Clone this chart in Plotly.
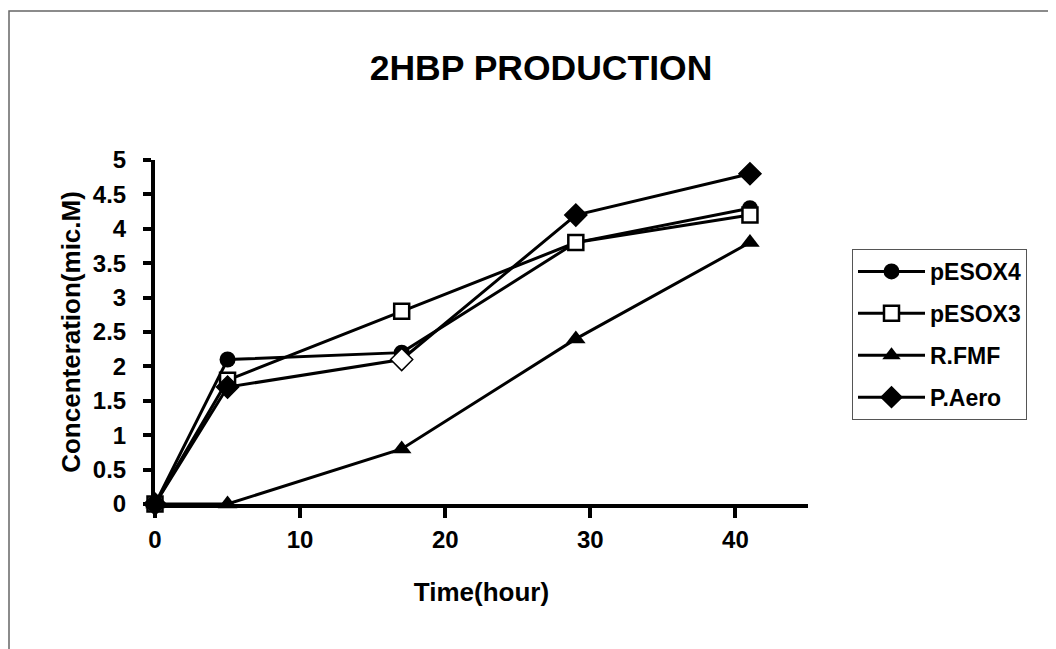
import plotly.graph_objects as go

time_h = [0, 5, 17, 29, 41]
pesox4 = [0, 2.1, 2.2, 3.8, 4.3]
pesox3 = [0, 1.8, 2.8, 3.8, 4.2]
rfmf = [0, 0, 0.8, 2.4, 3.8]
paero = [0, 1.7, 2.1, 4.2, 4.8]

x_ticks = [0, 10, 20, 30, 40]
y_ticks = [0, 0.5, 1, 1.5, 2, 2.5, 3, 3.5, 4, 4.5, 5]
y_ticklabels = ["0", "0.5", "1", "1.5", "2", "2.5", "3", "3.5", "4", "4.5", "5"]

FONT = "Arial, Liberation Sans, sans-serif"
W, H = 1056, 649
OFF = 8  # page body offset
# plot area in screen pixels
SL, SR, ST, SB = 155, 808, 160, 504
ML = SL - OFF
MT = ST - OFF
MR = W - (SR - OFF)
MB = H - (SB - OFF)
pw = SR - SL
ph = SB - ST


def px(sx):
    return (sx - SL) / pw


def py(sy):
    return (SB - sy) / ph


fig = go.Figure()

line = dict(color="black", width=3)
fig.add_trace(go.Scatter(x=time_h, y=pesox4, name="pESOX4", mode="lines+markers",
                         legendgroup="a",
                         line=line, marker=dict(symbol="circle", size=16, color="black"),
                         cliponaxis=False))
fig.add_trace(go.Scatter(x=time_h, y=pesox3, name="pESOX3", mode="lines+markers",
                         legendgroup="b",
                         line=line, marker=dict(symbol="square", size=15, color="white",
                                                line=dict(color="black", width=2.5)),
                         cliponaxis=False))
fig.add_trace(go.Scatter(x=time_h, y=rfmf, name="R.FMF", mode="lines+markers",
                         legendgroup="c",
                         line=line, marker=dict(symbol="triangle-up", size=17, color="black"),
                         cliponaxis=False))
fig.add_trace(go.Scatter(x=time_h, y=paero, name="P.Aero", mode="lines+markers",
                         legendgroup="d",
                         line=line, marker=dict(symbol="diamond", size=17,
                                                color=["black", "black", "white", "black", "black"],
                                                line=dict(color="black", width=1.5)),
                         cliponaxis=False))

fig.update_layout(
    width=W, height=H,
    margin=dict(l=ML, r=MR, t=MT, b=MB, pad=0, autoexpand=False),
    paper_bgcolor="white", plot_bgcolor="white",
    font=dict(family=FONT, color="black", size=24, weight="bold"),
    title=dict(text="2HBP PRODUCTION", x=(541 - OFF) / W, xanchor="center",
               y=1 - (68 - OFF) / H, yanchor="middle",
               font=dict(size=35.5, family=FONT, weight="bold", color="black")),
    xaxis=dict(range=[0, 45], tickvals=x_ticks, showgrid=False, zeroline=False,
               showline=True, linecolor="black", linewidth=4,
               ticks="outside", ticklen=10, tickwidth=4, tickcolor="black",
               ticklabelstandoff=1, automargin=False,
               tickfont=dict(size=24, family=FONT, weight="bold"),
               title=dict(text="Time(hour)", standoff=32,
                          font=dict(size=26, family=FONT, weight="bold"))),
    yaxis=dict(range=[0, 5], tickvals=y_ticks, ticktext=y_ticklabels, showgrid=False,
               zeroline=False, showline=True, linecolor="black", linewidth=4,
               ticks="outside", ticklen=8, tickwidth=4, tickcolor="black",
               ticklabelstandoff=12, automargin=False,
               tickfont=dict(size=24, family=FONT, weight="bold"),
               title=dict(text="Concenteration(mic.M)", standoff=6,
                          font=dict(size=26, family=FONT, weight="bold"))),
    legend=dict(x=px(852), y=py(249), xanchor="left", yanchor="top",
                bordercolor="#555555", borderwidth=1, bgcolor="white",
                font=dict(size=23, family=FONT, weight="bold"),
                tracegroupgap=9, itemwidth=67,
                entrywidth=186),
    showlegend=True,
)

fig.add_shape(type="rect", xref="paper", yref="paper",
              x0=px(9), x1=px(1080), y0=py(11), y1=py(680),
              line=dict(color="#666666", width=1.5), fillcolor="rgba(0,0,0,0)", layer="below")

fig.write_html("out.html")
